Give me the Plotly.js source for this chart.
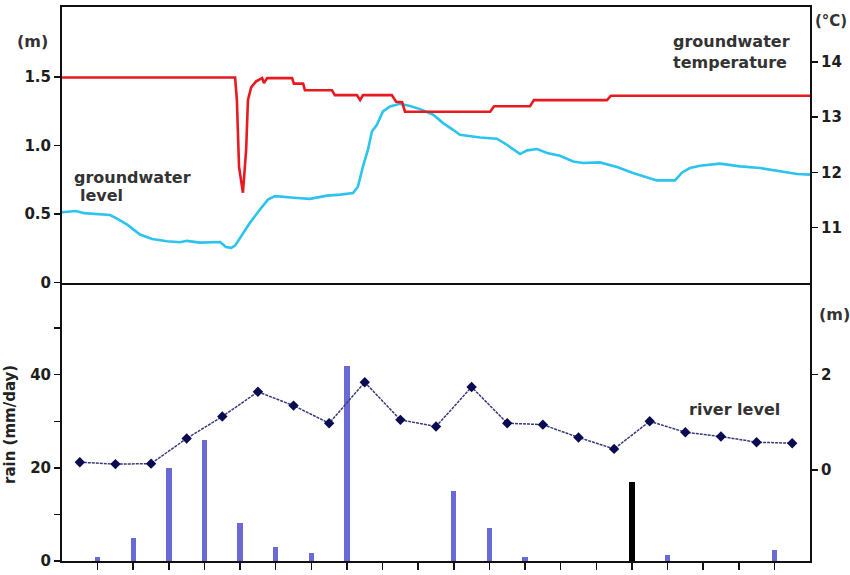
<!DOCTYPE html>
<html>
<head>
<meta charset="utf-8">
<script src="https://cdn.plot.ly/plotly-3.0.1.min.js"></script>
<style>html,body{margin:0;padding:0;background:#fff;}#chart{width:850px;height:575px;}</style>
</head>
<body>
<div id="chart"></div>
<script>
// ---- Top panel: groundwater level (m) ----
const gwTime = [0, 0.39, 0.62, 1.35, 1.57, 1.83, 2.19, 2.53, 2.95, 3.31, 3.51, 3.87, 4.44, 4.60, 4.75, 4.86,
  5.08, 5.28, 5.56, 5.78, 5.98, 6.32, 6.60, 6.96, 7.44, 7.81, 8.17, 8.31, 8.45, 8.59, 8.70, 8.84, 9.01, 9.21,
  9.49, 9.77, 10.05, 10.42, 10.70, 10.98, 11.17, 11.74, 12.21, 12.49, 12.86, 13.06, 13.34, 13.62, 13.98,
  14.35, 14.63, 15.10, 15.58, 16.03, 16.31, 16.70, 17.21, 17.41, 17.63, 17.91, 18.47, 19.04, 19.60, 20.16,
  20.64, 21.0];
const gwLevel = [0.513, 0.522, 0.506, 0.492, 0.462, 0.422, 0.350, 0.317, 0.301, 0.294, 0.304, 0.291, 0.295,
  0.259, 0.253, 0.269, 0.357, 0.437, 0.532, 0.605, 0.630, 0.621, 0.617, 0.610, 0.634, 0.641, 0.653, 0.701,
  0.847, 0.969, 1.102, 1.151, 1.248, 1.284, 1.304, 1.287, 1.265, 1.224, 1.163, 1.114, 1.078, 1.058, 1.049,
  1.005, 0.937, 0.964, 0.974, 0.945, 0.925, 0.883, 0.872, 0.876, 0.843, 0.799, 0.774, 0.745, 0.745, 0.803,
  0.835, 0.852, 0.867, 0.847, 0.835, 0.811, 0.792, 0.787];

// ---- Top panel: groundwater temperature (°C) ----
const tempTime = [0, 4.86, 4.91, 4.97, 5.08, 5.17, 5.22, 5.31, 5.45, 5.62, 5.67, 5.76, 6.46, 6.51, 6.77,
  6.82, 7.58, 7.66, 8.28, 8.37, 8.45, 9.26, 9.38, 9.55, 9.63, 12.02, 12.13, 13.14, 13.25, 15.30, 15.41, 21.0];
const temp = [13.72, 13.72, 13.31, 12.10, 11.63, 12.41, 13.31, 13.54, 13.65, 13.71, 13.62, 13.71, 13.71,
  13.61, 13.61, 13.49, 13.49, 13.40, 13.40, 13.31, 13.40, 13.40, 13.28, 13.27, 13.10, 13.10, 13.20, 13.20,
  13.31, 13.31, 13.39, 13.39];

// ---- Bottom panel: daily rain (mm/day) and river level (m) ----
const rainDay = [1, 2, 3, 4, 5, 6, 7, 8, 9, 10, 11, 12, 13, 14, 15, 16, 17, 18, 19, 20];
const rain = [0.9, 5.0, 20.0, 26.0, 8.2, 3.1, 1.8, 41.8, 0, 0, 15.1, 7.1, 0.8, 0, 0, 17.0, 1.2, 0, 0, 2.4];
const riverDay = [0.5, 1.5, 2.5, 3.5, 4.5, 5.5, 6.5, 7.5, 8.5, 9.5, 10.5, 11.5, 12.5, 13.5, 14.5, 15.5,
  16.5, 17.5, 18.5, 19.5, 20.5];
const riverLevel = [0.16, 0.12, 0.13, 0.66, 1.12, 1.64, 1.35, 0.98, 1.84, 1.05, 0.91, 1.74, 0.98, 0.95,
  0.68, 0.44, 1.02, 0.79, 0.70, 0.58, 0.56];

// tick labels
const gwTicks = [0, 0.5, 1.0, 1.5];
const gwTickText = ['0', '0.5', '1.0', '1.5'];
const tempTicks = [11, 12, 13, 14];
const rainTicks = [0, 10, 20, 30, 40, 50];
const rainTickText = ['0', '', '20', '', '40', ''];
const riverTicks = [0, 2];

const highlightDay = 16;
const barColors = rainDay.map(d => d === highlightDay ? '#000000' : '#6a6ad6');

const tickFont = {family: 'DejaVu Sans', size: 15, color: '#1e1e1e', weight: 'bold'};
const annFont = {family: 'DejaVu Sans', size: 16, color: '#333333', weight: 'bold'};

const traces = [
  {x: rainDay, y: rain, type: 'bar', width: 0.15, marker: {color: barColors, line: {width: 0}},
   xaxis: 'x', yaxis: 'y', showlegend: false},
  {x: riverDay, y: riverLevel, type: 'scatter', mode: 'lines+markers',
   line: {color: '#3a3a7a', width: 1.5, dash: '3px,1px'},
   marker: {symbol: 'diamond', size: 8, color: '#0b0b52'},
   xaxis: 'x', yaxis: 'y2', showlegend: false},
  {x: gwTime, y: gwLevel, type: 'scatter', mode: 'lines', line: {color: '#2cc4ee', width: 2.6},
   xaxis: 'x2', yaxis: 'y3', showlegend: false},
  {x: tempTime, y: temp, type: 'scatter', mode: 'lines', line: {color: '#e8191f', width: 2.6},
   xaxis: 'x2', yaxis: 'y4', showlegend: false}
];

const split = 0.5027;
const axLine = {showline: true, linecolor: '#111', linewidth: 2, showgrid: false, zeroline: false,
  ticks: 'outside', ticklen: 6, tickwidth: 1.5, tickcolor: '#111', tickfont: tickFont};

function ann(text, x, y, xanchor, extra) {
  return Object.assign({text: text, x: x, y: y, xref: 'paper', yref: 'paper', xanchor: xanchor,
    yanchor: 'middle', showarrow: false, font: annFont}, extra || {});
}

const layout = {
  width: 850, height: 575,
  margin: {l: 62, r: 40, t: 7, b: 14},
  paper_bgcolor: '#fff', plot_bgcolor: '#fff',
  bargap: 0,
  xaxis: Object.assign({}, axLine, {domain: [0, 1], anchor: 'y', range: [0, 21],
    tickvals: rainDay, showticklabels: false, ticklen: 7}),
  xaxis2: {domain: [0, 1], anchor: 'y3', range: [0, 21], showline: true, mirror: true,
    linecolor: '#111', linewidth: 2, showgrid: false, zeroline: false, ticks: '', showticklabels: false},
  yaxis: Object.assign({}, axLine, {domain: [0, split], anchor: 'x', range: [0, 59.8],
    tickvals: rainTicks, ticktext: rainTickText}),
  yaxis2: Object.assign({}, axLine, {overlaying: 'y', side: 'right', anchor: 'x', range: [-1.916, 3.937],
    tickvals: riverTicks, ticktext: ['0', '2']}),
  yaxis3: Object.assign({}, axLine, {domain: [split, 1], anchor: 'x2', range: [0, 2.01],
    tickvals: gwTicks, ticktext: gwTickText}),
  yaxis4: Object.assign({}, axLine, {overlaying: 'y3', side: 'right', anchor: 'x2', range: [10, 15],
    tickvals: tempTicks}),
  annotations: [
    ann('(m)', -0.040, 0.937, 'center'),
    ann('(°C)', 1.004, 0.975, 'left', {font: Object.assign({}, annFont, {size: 15})}),
    ann('groundwater', 0.0135, 0.693, 'left'),
    ann('level', 0.0215, 0.660, 'left'),
    ann('groundwater', 0.8145, 0.937, 'left'),
    ann('temperature', 0.8145, 0.899, 'left'),
    ann('river level', 0.836, 0.2726, 'left'),
    ann('rain (mm/day)', -0.0695, 0.2455, 'center', {textangle: -90, font: Object.assign({}, annFont, {size: 15, color: '#222'})}),
    ann('(m)', 1.009, 0.4458, 'left')
  ]
};

Plotly.newPlot('chart', traces, layout, {displayModeBar: false, staticPlot: true});
</script>
</body>
</html>
